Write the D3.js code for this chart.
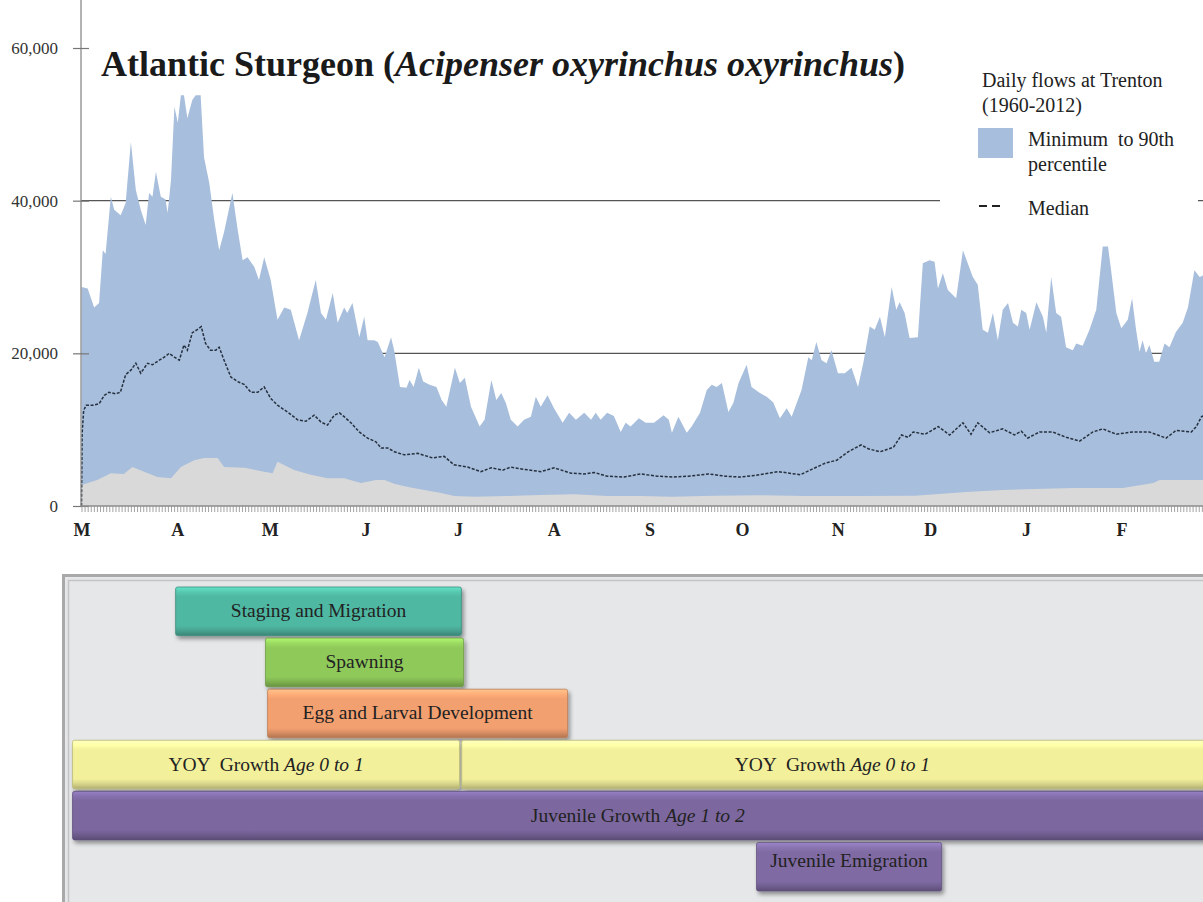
<!DOCTYPE html>
<html><head><meta charset="utf-8">
<script src="https://cdn.jsdelivr.net/npm/d3@7"></script>
<style>
body{margin:0;background:#fff;}
svg{display:block;}
svg text{font-family:"Liberation Serif","Times New Roman",serif;}
</style>
</head><body>
<svg id="c" width="1203" height="902"></svg>
<script>
// ---------- DATA ----------
const monthLabels = ["M","A","M","J","J","A","S","O","N","D","J","F"];
const monthStartDays = [0,31,61,92,122,153,184,214,245,275,306,337];
const yTicks = [0,20000,40000,60000];
const gridValues = [20000,40000];

// 90th percentile daily flow (day since Mar 1, cfs)
const p90 = [[0,28700],[2,28500],[4.1,26000],[5.7,26600],[6.9,33500],[7.8,33000],[9.5,40500],[10.6,38800],[12.7,38100],[14.3,39700],[16,47700],[17.6,41400],[19.2,38800],[20.8,36800],[21.9,41000],[23,40500],[24.1,43800],[25.7,40500],[27.2,40200],[27.9,38400],[29,42700],[30.1,52300],[31.2,50200],[32.2,53800],[33.2,53800],[34.3,50800],[35.9,53200],[37,53800],[38.6,53800],[39.7,45700],[41.4,42300],[43,37500],[44.6,33500],[46.2,35900],[48.9,41000],[50.6,36200],[52.2,32200],[53.8,32600],[56,31300],[57.5,29600],[59.2,32600],[61.3,29600],[63.5,24400],[65.7,26000],[67.8,25700],[70.5,21700],[73.2,25300],[75.9,29600],[77.6,25300],[79.2,24400],[81.4,27900],[83,24000],[85.1,26000],[86.1,25300],[87.8,26600],[90,22100],[91.6,24800],[92.7,21700],[94.9,21700],[96,21500],[98.2,19500],[100.3,22100],[101.3,20400],[103.2,15600],[105.3,15500],[106.3,16500],[107.6,15600],[109.3,18100],[110.7,16300],[112.8,15900],[115,15600],[116.7,13900],[118.2,13000],[121,18100],[122.6,16100],[124.2,16800],[126.2,13000],[129,10400],[130.6,11300],[132.8,16500],[134.4,13900],[136,14800],[137.5,13500],[139.1,11300],[141.3,10400],[143.4,11300],[145.6,11700],[147.2,14300],[148.8,13000],[151,14500],[153.1,12800],[155.9,10900],[158,12200],[160.2,11300],[162.9,12200],[165.1,11300],[166.6,12200],[168.2,11300],[170.3,12200],[172.5,11800],[174.7,9700],[176.3,10900],[177.9,10400],[180.6,11500],[182.8,10900],[185.5,10900],[188.6,11900],[190.3,11300],[191.3,9600],[193.4,11700],[196.1,9600],[197.7,10400],[200.4,12200],[202.6,15200],[204.2,15900],[205.8,15600],[207.5,16100],[209.6,12300],[211.2,13500],[212.9,16100],[215.5,18500],[217.1,15600],[219.8,14800],[222,14300],[224.1,13600],[226.3,11500],[228.5,12800],[230.1,11700],[233.3,15200],[235.5,19500],[236.6,19100],[238.1,21500],[239.8,19100],[241.4,18700],[243,20400],[245.1,17400],[247.3,17400],[249.5,18100],[251.6,15600],[253.3,18700],[255.4,23500],[257,23100],[258.7,24800],[260.3,22100],[262.5,28700],[264,25700],[265.1,26700],[266.7,25300],[268.3,22000],[271,22100],[272.6,31800],[274.8,32200],[276.4,32000],[277.5,28500],[279.1,30500],[280.7,28300],[283.4,27200],[285.6,33500],[287.6,31300],[288.8,30000],[290.4,29000],[292,23100],[293.7,22700],[295.3,25300],[296.9,21700],[298.5,25700],[300.2,26600],[301.8,24000],[303.4,23500],[304.5,25700],[306.1,25300],[307.2,23100],[309.4,26700],[311.5,24800],[312.6,22700],[314.2,30000],[315.8,25300],[317.4,24800],[319,20800],[321.2,20400],[322.3,21300],[324.4,21000],[326.6,23100],[328.8,25700],[330.9,34000],[332.6,34000],[333.6,30900],[335.3,25300],[336.9,23300],[339,24400],[340.4,27200],[341.7,23100],[342.8,20200],[343.8,21700],[344.9,20000],[346,21100],[347.6,18900],[349.2,18900],[350.9,21300],[352.5,20800],[354.6,22800],[356.8,24000],[358.5,26000],[360.6,30900],[362.3,30000],[365,30500]];

// Minimum daily flow
const minFlow = [[0,2750],[5.1,3400],[9.5,4300],[13.7,4200],[16.5,5100],[20.3,4500],[24.6,3800],[29,3650],[32.2,5100],[36.5,6000],[39.7,6300],[44.1,6300],[46.2,5100],[52.8,5000],[59.2,4500],[61.9,4300],[63.5,5800],[68.9,4700],[74.3,4100],[79.7,3650],[85.1,3650],[90.5,3000],[95.4,3400],[98.2,3400],[101.3,2900],[105.8,2500],[111.1,2100],[116.5,1700],[120.8,1300],[127.2,1200],[138.1,1300],[148.8,1450],[159.6,1550],[170.3,1300],[181.2,1300],[191.3,1200],[205,1350],[220,1400],[235,1300],[250,1300],[270,1350],[286.6,1850],[298.5,2100],[321.2,2350],[337.4,2350],[347.3,3000],[349.3,3400],[365,3400]];

// Median daily flow
const median = [[0,0],[0.2,9500],[0.7,12500],[1.5,13200],[3.7,13200],[5.7,13400],[7.4,14500],[8.9,14900],[11,14700],[12.6,14900],[14.3,17200],[16,17800],[17.6,18700],[19.2,17400],[21.4,18700],[23,18500],[25.2,19100],[26.8,19500],[28.4,20000],[30.1,19500],[31.7,19100],[33.2,21100],[34.3,20400],[35.9,22700],[37.5,23100],[38.8,23500],[40.2,21300],[41.8,20400],[43.5,20400],[44.6,20800],[46.2,19100],[48.4,16900],[50.6,16300],[52.8,15900],[54.9,14900],[57.1,14900],[59.2,15600],[61.3,14100],[63.5,13200],[66.8,12300],[70,11300],[72.7,11100],[75.4,11900],[77.6,11000],[79.7,10600],[81.9,11900],[83.6,12200],[85.1,11700],[87.3,10900],[90,9700],[92.7,8900],[95.4,8400],[97.1,7600],[99.2,7600],[101.4,7100],[104.6,6700],[108.9,6900],[113.7,6300],[117.5,6500],[120.7,5400],[125.1,5100],[129.4,4500],[132.7,5000],[136.5,4700],[139.1,5100],[143.4,4800],[148.8,4500],[153.1,5000],[158.6,4300],[162.8,4200],[166.1,4400],[170.3,3900],[175.8,3800],[181.2,4200],[186.6,3900],[191.3,3800],[196.7,3900],[203.2,4200],[208.6,3900],[213.4,3800],[218.3,4000],[225.8,4500],[232.9,4100],[236.6,4800],[240.9,5600],[244.7,6000],[248.4,7100],[252.6,8000],[254.9,7500],[258.7,7100],[263.1,7700],[265.7,9300],[267.9,9000],[269.5,9700],[273.3,9400],[277.6,10400],[281.3,9300],[285.6,10900],[288.2,9400],[290.4,10900],[294.2,9600],[298.5,10100],[302.3,9300],[304.5,9800],[306.6,8900],[310.4,9700],[314.7,9700],[319,9000],[323.4,8500],[327.7,9700],[330.9,10100],[335.3,9400],[340.6,9700],[346,9700],[351.4,8900],[354.7,9900],[359.6,9700],[361.2,10400],[362.9,11700],[365,12000]];

// Life-stage timeline (start/end in days since Mar 1)
const stageNames   = ["Staging and Migration","Spawning","Egg and Larval Development","YOY  Growth ","YOY  Growth ","Juvenile Growth ","Juvenile Emigration"];
const stageItalic  = ["","","","Age 0 to 1","Age 0 to 1","Age 1 to 2",""];
const stageStart   = [30.5, 59.6, 60.3, -2.9, 123.2, -2.9, 218.7];
const stageEnd     = [123.1, 123.8, 157.5, 122.5, 366, 366, 278.7];
const stageRow     = [0, 1, 2, 3, 3, 4, 5];

// ---------- STYLE ----------
const FONT = "Liberation Serif, Times New Roman, serif";
const stageColors = ["#50b8a2","#8fc95a","#f3a070","#f2f09b","#f2f09b","#7b679f","#7f6ba3"];
const blueFill = "#a7bedc", grayFill = "#d9d9d9";

// ---------- DRAW ----------
const svg = d3.select("#c").attr("font-family", FONT);
const x = d3.scaleLinear().domain([0,365]).range([81.5, 1208]);
const y = d3.scaleLinear().domain([0,60000]).range([506, 48]);

// gridlines (behind areas)
svg.append("g").selectAll("line").data(gridValues).join("line")
  .attr("x1", 81).attr("x2", 1203)
  .attr("y1", d=>y(d)).attr("y2", d=>y(d))
  .attr("stroke","#555").attr("stroke-width",1.2);

// areas
const area = d3.area().x(d=>x(d[0])).y0(y(0)).y1(d=>y(d[1]));
svg.append("path").datum(p90).attr("d", area).attr("fill", blueFill);
svg.append("path").datum(minFlow).attr("d", area).attr("fill", grayFill);

// median
svg.append("path").datum(median)
  .attr("d", d3.line().x(d=>x(d[0])).y(d=>y(d[1])))
  .attr("fill","none").attr("stroke","#26313f").attr("stroke-width",1.5)
  .attr("stroke-dasharray","3,1.6");

// y axis
svg.append("line").attr("x1",81).attr("x2",81).attr("y1",0).attr("y2",y(0))
  .attr("stroke","#8a8a8a").attr("stroke-width",1.3);
const yAx = svg.append("g").attr("transform","translate(81,0)")
  .call(d3.axisLeft(y).tickValues(yTicks).tickFormat(d3.format(",")).tickSizeInner(8).tickSizeOuter(0).tickPadding(15));
yAx.attr("font-family", FONT);
yAx.select(".domain").remove();
yAx.selectAll(".tick line").attr("x1",8).attr("stroke","#777").attr("stroke-width",1.2);
yAx.selectAll(".tick text").attr("font-family",FONT).attr("font-size",17).attr("fill","#333");

// x axis baseline and daily minor ticks
svg.append("line").attr("x1",81).attr("x2",1203).attr("y1",y(0)).attr("y2",y(0))
  .attr("stroke","#8a8a8a").attr("stroke-width",1.3);
const xMinor = svg.append("g").attr("transform",`translate(0,${y(0)})`)
  .call(d3.axisBottom(x).tickValues(d3.range(0,366)).tickSize(6).tickFormat(""));
xMinor.select(".domain").remove();
xMinor.selectAll(".tick line").attr("stroke","#999").attr("stroke-width",0.9);

const xMajor = svg.append("g").attr("transform",`translate(0,${y(0)})`)
  .call(d3.axisBottom(x).tickValues(monthStartDays).tickFormat((d,i)=>monthLabels[i]).tickSize(0).tickPadding(17));
xMajor.attr("font-family", FONT);
xMajor.select(".domain").remove();
xMajor.selectAll(".tick text").attr("font-family",FONT)
  .attr("font-size",18).attr("font-weight","bold").attr("fill","#222");

// legend box
svg.append("rect").attr("x",940).attr("y",60).attr("width",258).attr("height",166).attr("fill","#fff");
const lg = svg.append("g").attr("font-family",FONT).attr("font-size",20).attr("fill","#222");
lg.append("text").attr("x",982).attr("y",87).text("Daily flows at Trenton");
lg.append("text").attr("x",982).attr("y",112).text("(1960-2012)");
lg.append("rect").attr("x",978).attr("y",128).attr("width",35).attr("height",30).attr("fill",blueFill);
lg.append("text").attr("x",1028).attr("y",146).style("white-space","pre").text("Minimum  to 90th");
lg.append("text").attr("x",1028).attr("y",171).text("percentile");
lg.append("line").attr("x1",979).attr("x2",1001).attr("y1",206).attr("y2",206)
  .attr("stroke","#222").attr("stroke-width",2).attr("stroke-dasharray","8,5");
lg.append("text").attr("x",1028).attr("y",215).text("Median");

// title
const t = svg.append("text").attr("x",101).attr("y",76).attr("font-family",FONT)
  .attr("font-size",36).attr("font-weight","bold").attr("fill","#1a1a1a");
t.append("tspan").text("Atlantic Sturgeon (");
t.append("tspan").attr("font-style","italic").text("Acipenser oxyrinchus oxyrinchus");
t.append("tspan").text(")");

// ---------- timeline panel ----------
svg.append("rect").attr("x",63.5).attr("y",575.5).attr("width",1150).attr("height",340)
  .attr("fill","#e6e7e9").attr("stroke","#a9a9a9").attr("stroke-width",3);
svg.append("rect").attr("x",68.5).attr("y",580.5).attr("width",1145).attr("height",330)
  .attr("fill","none").attr("stroke","#c4c4c4").attr("stroke-width",1.5);

const defs = svg.append("defs");
const f = defs.append("filter").attr("id","sh").attr("x","-5%").attr("y","-20%").attr("width","115%").attr("height","160%");
f.append("feDropShadow").attr("dx",2).attr("dy",3).attr("stdDeviation",2).attr("flood-color","#000").attr("flood-opacity",0.4);

stageColors.forEach((c,i)=>{
  const g = defs.append("linearGradient").attr("id","g"+i).attr("x1",0).attr("x2",0).attr("y1",0).attr("y2",1);
  const base = d3.color(c);
  [[0, base.brighter(0.6)],[0.1, base.brighter(0.25)],[0.2, base],[0.8, base],[0.9, base.darker(0.35)],[1, base.darker(0.9)]]
    .forEach(([o,col])=>g.append("stop").attr("offset",o).attr("stop-color",col.formatHex()));
});

const rowScale = d3.scaleBand().domain(d3.range(6)).range([587, 891]).paddingInner(0.05);
const stages = stageNames.map((n,i)=>({name:n, it:stageItalic[i], s:stageStart[i], e:stageEnd[i], row:stageRow[i], i}));

const sg = svg.append("g").attr("font-family",FONT).selectAll("g").data(stages).join("g");
sg.append("rect")
  .attr("x", d=>x(d.s)).attr("width", d=>x(d.e)-x(d.s))
  .attr("y", d=>rowScale(d.row)).attr("height", rowScale.bandwidth())
  .attr("rx",2).attr("fill", d=>`url(#g${d.i})`)
  .attr("stroke", d=>d3.color(stageColors[d.i]).darker(0.7).formatHex()).attr("stroke-width",0.8)
  .attr("filter","url(#sh)");
const st = sg.append("text")
  .attr("x", d=>(x(d.s)+Math.min(x(d.e),1203))/2)
  .attr("y", d=>rowScale(d.row) + rowScale.bandwidth()*(d.row===5?0.38:0.5) + 6)
  .attr("text-anchor","middle").attr("font-family",FONT).attr("font-size",19.5).attr("fill","#222")
  .style("white-space","pre");
st.append("tspan").text(d=>d.name);
st.append("tspan").attr("font-style","italic").text(d=>d.it);
</script>
</body></html>
